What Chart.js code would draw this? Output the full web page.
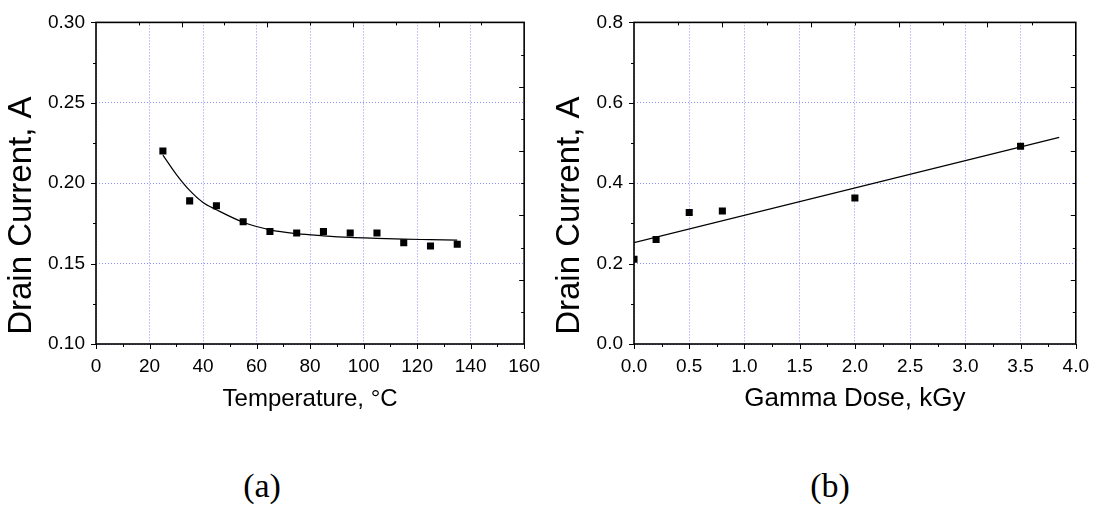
<!DOCTYPE html>
<html>
<head>
<meta charset="utf-8">
<script src="https://cdn.jsdelivr.net/npm/chart.js@4.4.0/dist/chart.umd.min.js"></script>
<style>
    html, body { margin: 0; padding: 0; background: #fff; }
    body { width: 1098px; height: 506px; position: relative; overflow: hidden; }
    canvas { position: absolute; top: 0; }
    #chartA { left: 0; }
    #chartB { left: 540px; }
    .panel-label {
        position: absolute;
        top: 466px;
        line-height: 40px;
        font-family: 'Liberation Serif', 'Times New Roman', serif;
        font-size: 34px;
        color: #000;
        transform: translateX(-50%);
    }
</style>
</head>
<body>
<canvas id="chartA" width="551" height="420"></canvas>
<canvas id="chartB" width="560" height="420"></canvas>
<div class="panel-label" style="left:262px">(a)</div>
<div class="panel-label" style="left:830px">(b)</div>
<script>
'use strict';

// (a) drain current vs temperature
const temperature = [25, 35, 45, 55, 65, 75, 85, 95, 105, 115, 125, 135];
const currentByTemp = [0.220, 0.189, 0.186, 0.176, 0.170, 0.169, 0.170, 0.169, 0.169, 0.163, 0.161, 0.162];
// exponential fit curve, read at a few temperatures
const fitTemperature = [25, 30, 35, 40, 45, 55, 65, 75, 85, 95, 105, 115, 125, 135];
const fitCurrentByTemp = [0.2175, 0.2055, 0.1955, 0.1880, 0.1835, 0.1757, 0.1710, 0.1686, 0.1673, 0.1663, 0.1657, 0.1652, 0.1649, 0.1646];

// (b) drain current vs gamma dose
const gammaDose = [0, 0.2, 0.5, 0.8, 2.0, 3.5];
const currentByDose = [0.211, 0.260, 0.327, 0.331, 0.363, 0.492];
// linear fit
const fitDose = [0, 3.85];
const fitCurrentByDose = [0.252, 0.514];

// axis ranges and tick steps
const tempAxis = { min: 0, max: 160, step: 20 };
const tempCurrentAxis = { min: 0.10, max: 0.30, step: 0.05 };
const doseAxis = { min: 0, max: 4, step: 0.5 };
const doseCurrentAxis = { min: 0, max: 0.8, step: 0.2 };

const FONT = "'Liberation Sans', Arial, sans-serif";
const GRID_COLOR = '#8f8fff';

function toPoints(xs, ys) {
    return xs.map((x, i) => ({ x: x, y: ys[i] }));
}

// 프레임 + 눈금 (아래/왼쪽은 바깥, 위/오른쪽은 안쪽)
const frameTicks = {
    id: 'frameTicks',
    afterDatasetsDraw(chart) {
        const { ctx, chartArea: a, scales: { x, y } } = chart;
        const major = 5, minor = 3;
        ctx.save();
        ctx.strokeStyle = '#000';
        ctx.lineWidth = 1;
        ctx.beginPath();

        const xs = x.options.ticks.stepSize;
        for (let v = x.min; v <= x.max + 1e-9; v += xs / 2) {
            const px = Math.round(x.getPixelForValue(v)) + 0.5;
            const isMajor = Math.abs(Math.round(v / xs) * xs - v) < 1e-9;
            ctx.moveTo(px, a.bottom);
            ctx.lineTo(px, a.bottom + (isMajor ? major : minor));
        }
        const ys = y.options.ticks.stepSize;
        for (let v = y.min; v <= y.max + 1e-9; v += ys / 2) {
            const py = Math.round(y.getPixelForValue(v)) + 0.5;
            const isMajor = Math.abs(Math.round(v / ys) * ys - v) < 1e-9;
            ctx.moveTo(a.left, py);
            ctx.lineTo(a.left - (isMajor ? major : minor), py);
        }
        // top / right: 10 even divisions
        for (let i = 1; i < 10; i++) {
            const len = i % 2 === 0 ? major : minor;
            const px = Math.round(a.left + a.width * i / 10) + 0.5;
            ctx.moveTo(px, a.top);
            ctx.lineTo(px, a.top + len);
            const py = Math.round(a.top + a.height * i / 10) + 0.5;
            ctx.moveTo(a.right, py);
            ctx.lineTo(a.right - len, py);
        }
        ctx.stroke();

        ctx.lineWidth = 1.6;
        ctx.strokeRect(a.left, a.top, a.width, a.height);
        ctx.restore();
    }
};

function buildChart(canvas, cfg) {
    return new Chart(canvas, {
        type: 'scatter',
        data: {
            datasets: [
                {
                    data: toPoints(cfg.xs, cfg.ys),
                    pointStyle: 'rect',
                    pointRadius: 5,
                    backgroundColor: '#000',
                    borderWidth: 0,
                    clip: 0
                },
                {
                    data: toPoints(cfg.fitXs, cfg.fitYs),
                    showLine: true,
                    pointRadius: 0,
                    borderColor: '#000',
                    borderWidth: 1.2,
                    cubicInterpolationMode: 'monotone'
                }
            ]
        },
        options: {
            responsive: false,
            devicePixelRatio: 1,
            animation: false,
            events: [],
            layout: { padding: { top: 15, right: 0, left: 0, bottom: 0 } },
            plugins: { legend: { display: false }, tooltip: { enabled: false } },
            scales: {
                x: {
                    type: 'linear',
                    min: cfg.xAxis.min,
                    max: cfg.xAxis.max,
                    afterFit: s => { s.height = 420 - 344; },
                    afterBuildTicks: s => {
                        s.ticks = [];
                        for (let v = cfg.xAxis.min; v <= cfg.xAxis.max + 1e-9; v += cfg.xAxis.step) {
                            s.ticks.push({ value: +v.toFixed(4) });
                        }
                    },
                    ticks: {
                        stepSize: cfg.xAxis.step,
                        padding: 11,
                        color: '#000',
                        maxRotation: 0,
                        font: { family: FONT, size: 19 },
                        callback: v => cfg.xFmt(v)
                    },
                    grid: { color: GRID_COLOR, drawTicks: false, lineWidth: 1 },
                    border: { display: false, dash: [1, 2] },
                    title: {
                        display: true,
                        text: cfg.xTitle,
                        color: '#000',
                        font: { family: FONT, size: cfg.xTitleSize },
                        padding: { top: 0, bottom: 6 }
                    }
                },
                y: {
                    type: 'linear',
                    min: cfg.yAxis.min,
                    max: cfg.yAxis.max,
                    afterFit: s => { s.width = cfg.plotLeft; },
                    afterBuildTicks: s => {
                        s.ticks = [];
                        for (let v = cfg.yAxis.min; v <= cfg.yAxis.max + 1e-9; v += cfg.yAxis.step) {
                            s.ticks.push({ value: +v.toFixed(4) });
                        }
                    },
                    ticks: {
                        stepSize: cfg.yAxis.step,
                        padding: 11,
                        color: '#000',
                        font: { family: FONT, size: 19 },
                        callback: v => cfg.yFmt(v)
                    },
                    grid: { color: GRID_COLOR, drawTicks: false, lineWidth: 1 },
                    border: { display: false, dash: [1, 2] },
                    title: {
                        display: true,
                        align: 'start',
                        text: ' ' + cfg.yTitle,
                        color: '#000',
                        font: { family: FONT, size: 33 },
                        padding: { top: cfg.yTitlePad, bottom: 0 }
                    }
                }
            }
        },
        plugins: [frameTicks]
    });
}

// 왼쪽: 온도
buildChart(document.getElementById('chartA'), {
    xs: temperature, ys: currentByTemp,
    fitXs: fitTemperature, fitYs: fitCurrentByTemp,
    xAxis: tempAxis, yAxis: tempCurrentAxis,
    xFmt: v => String(Math.round(v)),
    yFmt: v => v.toFixed(2),
    xTitle: 'Temperature, °C',
    yTitle: 'Drain Current, A',
    plotLeft: 96,
    xTitleSize: 24, yTitlePad: 2
});

// 오른쪽: 감마선량
buildChart(document.getElementById('chartB'), {
    xs: gammaDose, ys: currentByDose,
    fitXs: fitDose, fitYs: fitCurrentByDose,
    xAxis: doseAxis, yAxis: doseCurrentAxis,
    xFmt: v => v.toFixed(1),
    yFmt: v => v.toFixed(1),
    xTitle: 'Gamma Dose, kGy',
    yTitle: 'Drain Current, A',
    plotLeft: 94,
    xTitleSize: 26, yTitlePad: 10
});
</script>
</body>
</html>
